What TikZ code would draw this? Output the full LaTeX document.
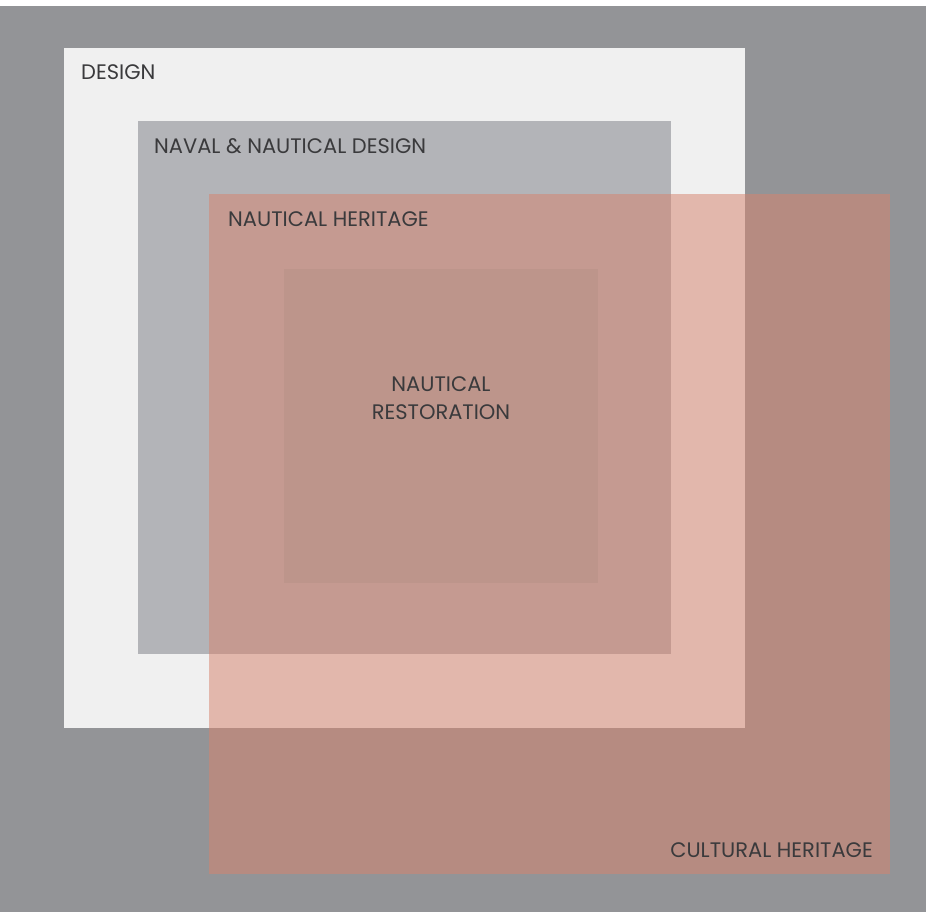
\documentclass[tikz,border=0pt]{standalone}
\usepackage{fontspec}
\setmainfont{Poppins}
\begin{document}
\definecolor{bggray}{RGB}{147,148,151}
\definecolor{designwhite}{RGB}{240,240,240}
\definecolor{navalgray}{RGB}{179,180,184}
\definecolor{heritage}{RGB}{215,131,110}
\definecolor{restore}{RGB}{189,149,139}
\definecolor{ink}{RGB}{58,58,60}
\begin{tikzpicture}[x=1pt,y=-1pt,
  label/.style={text=ink,inner sep=0pt,font=\fontsize{21}{28}\selectfont}]
  % canvas
  \useasboundingbox (0,0) rectangle (926,912);
  \fill[white] (0,0) rectangle (926,912);
  \fill[bggray] (0,6) rectangle (926,912);
  % nested fields
  \fill[designwhite] (64,48) rectangle (745,728);
  \fill[navalgray] (138,121) rectangle (671,654);
  \fill[heritage,fill opacity=0.52] (209,194) rectangle (890,874);
  \fill[restore] (284,269) rectangle (598,583);
  % labels
  \node[label,anchor=base west] (design) at (81,80) {DESIGN};
  \node[label,anchor=base west] (naval) at (154,154) {NAVAL \& NAUTICAL DESIGN};
  \node[label,anchor=base west] (nheritage) at (228,226) {NAUTICAL HERITAGE};
  \node[label,anchor=base east] (cheritage) at (873,857) {CULTURAL HERITAGE};
  \node[label,anchor=base,align=center] (restoration) at (441,419) {NAUTICAL\\RESTORATION};
\end{tikzpicture}
\end{document}
